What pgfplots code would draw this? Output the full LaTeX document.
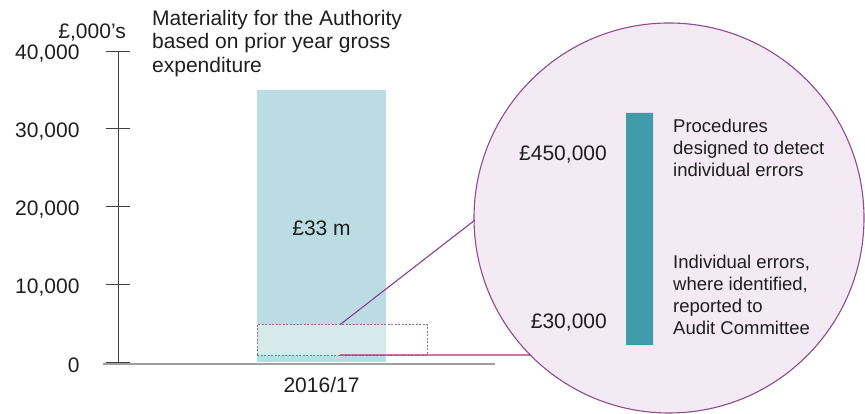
\documentclass[border=0pt]{standalone}
\usepackage{pgfplots}
\pgfplotsset{compat=1.18}
\usepackage{fontspec}
\setmainfont{Liberation Sans}
\definecolor{barblue}{HTML}{BCDCE4}
\definecolor{tealbar}{HTML}{3F9BA9}
\definecolor{circfill}{HTML}{F4EAF4}
\definecolor{circline}{HTML}{8E4C8E}
\definecolor{linkpurple}{HTML}{8A3E8E}
\definecolor{linkmagenta}{HTML}{A3337E}
\definecolor{rectline}{HTML}{9A6F8E}
\definecolor{txt}{HTML}{1E1E1E}
\newcommand{\bigf}{\fontsize{21}{23.5}\selectfont}
\newcommand{\smallf}{\fontsize{18.5}{22}\selectfont}

\begin{document}
\begin{tikzpicture}[x=1pt,y=1pt]
\path (0,0) rectangle (865,414);

% zoom circle
\fill[circfill] (669,196) circle (195);
\draw[circline, line width=1.1pt] (669,196) circle (195);

% main chart
\begin{axis}[
    at={(118pt,52pt)}, anchor=south west,
    scale only axis, width=377pt, height=311pt,
    xmin=-1.578, xmax=1.345,
    ymin=0, ymax=40000,
    axis lines*=left,
    x axis line style={draw=none},
    y axis line style={draw=black!75, line width=0.7pt, -},
    ytick={0,10000,20000,30000,40000},
    xtick={0}, xticklabels={2016/17},
    xtick style={draw=none},
    ytick style={draw=black!75, line width=0.7pt},
    tick align=center, major tick length=24pt,
    scaled y ticks=false,
    /pgf/number format/1000 sep={,},
    /pgf/number format/assume math mode=true,
    tick label style={font=\bigf, text=txt},
    yticklabel style={xshift=-23pt, yshift=-3pt},
    clip=false,
]
\addplot[ybar, bar width=1, bar shift=0, fill=barblue, draw=none]
    coordinates {(0,35000)};

% highlighted slice that is zoomed
\fill[white, opacity=0.4] (axis cs:-0.5,900) rectangle (axis cs:0.82,4800);
\draw[rectline, line width=0.6pt, dash pattern=on 2pt off 1.5pt]
    (axis cs:-0.5,900) rectangle (axis cs:0.82,4800);

\node[font=\bigf, text=txt] at (axis cs:0,17200) {£33 m};

\draw[gray!75, line width=2pt] (axis cs:-1.694,-250) -- (axis cs:1.345,-250);

\coordinate (A) at (axis cs:0.143,4800);
\coordinate (B) at (axis cs:0.143,900);
\end{axis}

\draw[linkpurple, line width=1.1pt] (A) -- (475,194);
\draw[linkmagenta, line width=1.4pt] (B) -- (530,59);

\node[anchor=east, font=\bigf, text=txt, inner sep=0] at (126,381) {£,000’s};
\node[anchor=north west, align=left, font=\bigf, text=txt, inner sep=0]
    at (152,404) {Materiality for the Authority\\based on prior year gross\\expenditure};

% materiality thresholds inside the circle
\begin{axis}[
    at={(626pt,69pt)}, anchor=south west,
    scale only axis, width=27pt, height=232pt,
    xmin=0, xmax=1, ymin=30, ymax=450,
    hide axis, clip=false,
]
\addplot[fill=tealbar, draw=none]
    coordinates {(0,30) (1,30) (1,450) (0,450) (0,30)};
\node[anchor=east, font=\bigf, text=txt, inner sep=0, xshift=-19pt, yshift=-42pt]
    at (axis cs:0,450) {£450,000};
\node[anchor=east, font=\bigf, text=txt, inner sep=0, xshift=-19pt, yshift=22pt]
    at (axis cs:0,30) {£30,000};
\end{axis}

\node[anchor=west, align=left, font=\smallf, text=txt, inner sep=0]
    at (673,266) {Procedures\\designed to detect\\individual errors};
\node[anchor=west, align=left, font=\smallf, text=txt, inner sep=0]
    at (673,119) {Individual errors,\\where identified,\\reported to\\Audit Committee};
\end{tikzpicture}
\end{document}
